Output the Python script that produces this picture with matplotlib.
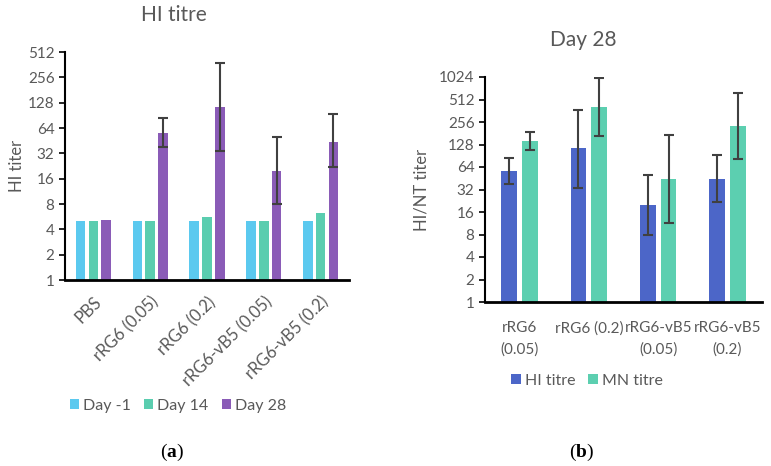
import matplotlib.pyplot as plt
import numpy as np

plt.rcParams['font.family'] = ['Lato', 'DejaVu Sans']
plt.rcParams['mathtext.fontset'] = 'custom'
plt.rcParams['mathtext.bf'] = 'Liberation Serif:bold'
plt.rcParams['mathtext.rm'] = 'Liberation Serif'

# (a) HI titre by day
groups_a = ['PBS', 'rRG6 (0.05)', 'rRG6 (0.2)', 'rRG6-vB5 (0.05)', 'rRG6-vB5 (0.2)']
day_m1 = [5, 5, 5, 5, 5]
day_14 = [5, 5, 5.6, 5, 6.3]
day_28 = [5.1, 56, 114, 20, 44]
day_28_lo = [5.1, 38, 34, 8, 22]
day_28_hi = [5.1, 84, 376, 50, 93]

# (b) Day 28 HI vs MN
groups_b = ['rRG6\n(0.05)', 'rRG6 (0.2)', 'rRG6-vB5\n(0.05)', 'rRG6-vB5\n(0.2)']
hi_titre = [56, 114, 20, 44]
hi_lo = [38, 34, 8, 22]
hi_hi = [84, 376, 50, 93]
mn_titre = [144, 406, 44, 224]
mn_lo = [108, 165, 11.5, 83]
mn_hi = [190, 982, 171, 620]

grey = '#595959'
ecol = '#404040'

fig = plt.figure(figsize=(7.71, 4.66), dpi=100)
W, H = 771, 466

def add_ax(x0, y0, x1, y1):
    return fig.add_axes([x0 / W, 1 - y1 / H, (x1 - x0) / W, (y1 - y0) / H])

def style(ax, top):
    ax.set_yscale('log', base=2)
    ax.set_ylim(1, top)
    ticks = [2 ** i for i in range(int(np.log2(top)) + 1)]
    ax.set_yticks(ticks)
    ax.set_yticklabels([str(t) for t in ticks])
    ax.minorticks_off()
    ax.tick_params(axis='y', labelcolor=grey, labelsize=11, length=4, width=1.2,
                   direction='out', color='black')
    ax.tick_params(axis='x', length=0, labelcolor=grey, labelsize=11)
    for s in ['top', 'right']:
        ax.spines[s].set_visible(False)
    ax.spines['left'].set_linewidth(1.5)
    ax.spines['bottom'].set_linewidth(2)

def legend(ax, cx, cy, ncol):
    ax.legend(loc='center', bbox_to_anchor=(cx / W, 1 - cy / H), bbox_transform=fig.transFigure,
              ncol=ncol, frameon=False, fontsize=11.5, labelcolor=grey, handlelength=0.6,
              handleheight=0.6, handletextpad=0.25, columnspacing=0.8)

# ---- panel a
ax1 = add_ax(65, 52, 349, 280)
x = np.arange(len(groups_a))
bw = 0.17
step = 0.225
ax1.bar(x - step, day_m1, bw, color='#5BC9EF', label='Day -1')
ax1.bar(x, day_14, bw, color='#5ACDAF', label='Day 14')
d28 = np.array(day_28)
ax1.bar(x + step, day_28, bw, color='#8A5BB7', label='Day 28')
lo = d28 - np.array(day_28_lo)
hi = np.array(day_28_hi) - d28
ax1.errorbar(x[1:] + step, d28[1:], yerr=[lo[1:], hi[1:]], fmt='none',
             ecolor=ecol, elinewidth=1.5, capsize=3.5, capthick=1.5)
ax1.set_xlim(-0.5, len(groups_a) - 0.5)
style(ax1, 512)
ax1.set_xticks(x)
ax1.set_xticklabels(groups_a, rotation=45, ha='right', va='top', rotation_mode='anchor',
                    fontsize=12)
ax1.tick_params(axis='x', pad=10)
ax1.set_ylabel('HI titer', color=grey, fontsize=12)
ax1.yaxis.set_label_coords(-0.14, 0.5)
fig.text(174 / W, 1 - 15 / H, 'HI titre', color=grey, fontsize=15, ha='center', va='center')
legend(ax1, 178, 406, 3)

# ---- panel b
ax2 = add_ax(485, 77, 762, 302)
xb = np.arange(len(groups_b))
bw2 = 0.225
step2 = 0.15
hi = np.array(hi_titre)
mn = np.array(mn_titre)
ax2.bar(xb - step2, hi, bw2, color='#4C66C8', label='HI titre')
ax2.bar(xb + step2, mn, bw2, color='#5CCFB0', label='MN titre')
ax2.errorbar(xb - step2, hi, yerr=[hi - np.array(hi_lo), np.array(hi_hi) - hi], fmt='none',
             ecolor=ecol, elinewidth=1.5, capsize=3.5, capthick=1.5)
ax2.errorbar(xb + step2, mn, yerr=[mn - np.array(mn_lo), np.array(mn_hi) - mn], fmt='none',
             ecolor=ecol, elinewidth=1.5, capsize=3.5, capthick=1.5)
ax2.set_xlim(-0.5, len(groups_b) - 0.5)
style(ax2, 1024)
ax2.set_xticks(xb)
ax2.set_xticklabels(groups_b, linespacing=1.6)
ax2.tick_params(axis='x', pad=14)
ax2.set_ylabel('HI/NT titer', color=grey, fontsize=12)
ax2.yaxis.set_label_coords(-0.2, 0.5)
fig.text(583 / W, 1 - 40 / H, 'Day 28', color=grey, fontsize=15, ha='center', va='center')
legend(ax2, 587, 381, 2)

fig.text(172 / W, 1 - 452 / H, r'($\mathbf{a}$)', fontsize=14, ha='center', va='center',
         family='Liberation Serif')
fig.text(582 / W, 1 - 452 / H, r'($\mathbf{b}$)', fontsize=14, ha='center', va='center',
         family='Liberation Serif')

fig.savefig('out.png', dpi=100)
